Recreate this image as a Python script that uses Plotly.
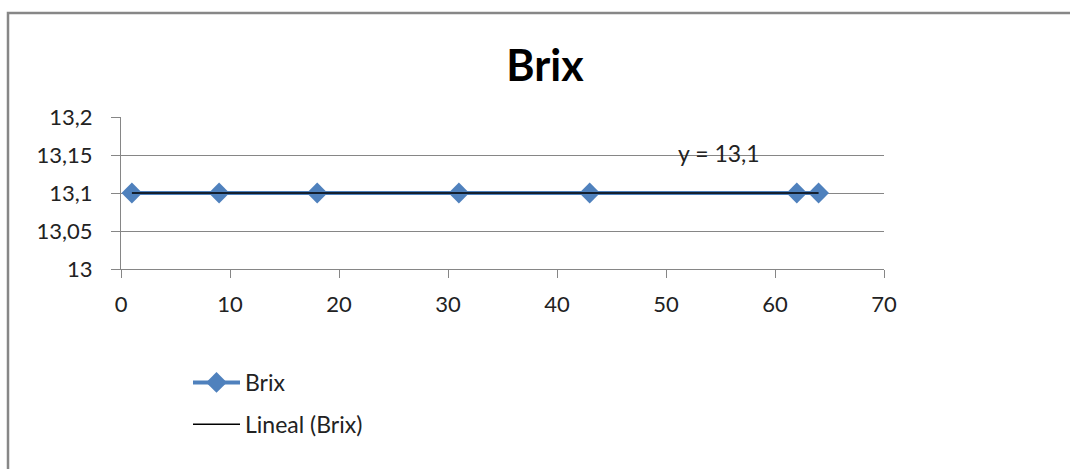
import numpy as np
import plotly.graph_objects as go

# Brix readings by sample day
days = [1, 9, 18, 31, 43, 62, 64]
brix = [13.1, 13.1, 13.1, 13.1, 13.1, 13.1, 13.1]

x_ticks = [0, 10, 20, 30, 40, 50, 60, 70]
y_ticks = [13.0, 13.05, 13.1, 13.15, 13.2]
y_tick_text = ["13", "13,05", "13,1", "13,15", "13,2"]

W, H = 1070, 469
FONT = "Lato"
TEXT = "#222222"
GRID = "#868686"
BLUE = "#4F81BD"

# linear trend line fitted to the series
slope, intercept = np.polyfit(days, brix, 1)
trend_x = [min(days), max(days)]
trend_y = [slope * v + intercept for v in trend_x]
eq_text = "y = " + f"{intercept:.1f}".replace(".", ",")


def px_x(p):
    return p / W


def px_y(p):
    return 1 - p / H


fig = go.Figure()
fig.add_trace(go.Scatter(
    x=days, y=brix, mode="lines+markers", name="Brix",
    line=dict(color=BLUE, width=4),
    marker=dict(symbol="diamond", size=16, color=BLUE),
    legendgroup="a",
))
fig.add_trace(go.Scatter(
    x=trend_x, y=trend_y, mode="lines", name="Lineal (Brix)",
    line=dict(color="black", width=1.5),
    legendgroup="b",
))

fig.add_annotation(
    x=54.9, y=13.15, xref="x", yref="y", text=eq_text, showarrow=False,
    font=dict(family=FONT, size=23, color=TEXT), yshift=2,
)

# chart frame
fig.add_shape(
    type="path", xref="paper", yref="paper",
    path=f"M {px_x(8)},-0.1 L {px_x(8)},{px_y(13)} L 1.1,{px_y(13)}",
    line=dict(color="#878787", width=2.5),
)

fig.update_layout(
    width=W, height=H,
    margin=dict(l=0, r=0, t=0, b=0),
    paper_bgcolor="white", plot_bgcolor="white",
    separators=",.",
    font=dict(family=FONT, size=22, color=TEXT),
    title=dict(text="<b>Brix</b>", x=545 / W, xanchor="center",
               y=px_y(66), yanchor="middle",
               font=dict(family=FONT, size=43, color="black")),
    xaxis=dict(
        domain=[px_x(121), px_x(884)], range=[0, 70], automargin=False,
        tickmode="array", tickvals=x_ticks,
        showgrid=False, zeroline=False,
        showline=True, linecolor=GRID, linewidth=1,
        ticks="outside", ticklen=8, tickcolor=GRID,
        ticklabelstandoff=8,
        tickfont=dict(family=FONT, size=22, color=TEXT),
    ),
    yaxis=dict(
        domain=[px_y(269), px_y(117)], range=[13.0, 13.2], automargin=False,
        tickmode="array", tickvals=y_ticks, ticktext=y_tick_text,
        showgrid=True, gridcolor=GRID, gridwidth=1, zeroline=False,
        showline=True, linecolor=GRID, linewidth=1,
        ticks="outside", ticklen=9, tickcolor=GRID,
        ticklabelstandoff=14,
        tickfont=dict(family=FONT, size=22, color=TEXT),
    ),
    legend=dict(
        x=px_x(188), y=px_y(361), xanchor="left", yanchor="top",
        font=dict(family=FONT, size=23, color=TEXT),
        itemwidth=47, tracegroupgap=9, bgcolor="rgba(0,0,0,0)",
    ),
    showlegend=True,
)

fig.write_html("out.html")
